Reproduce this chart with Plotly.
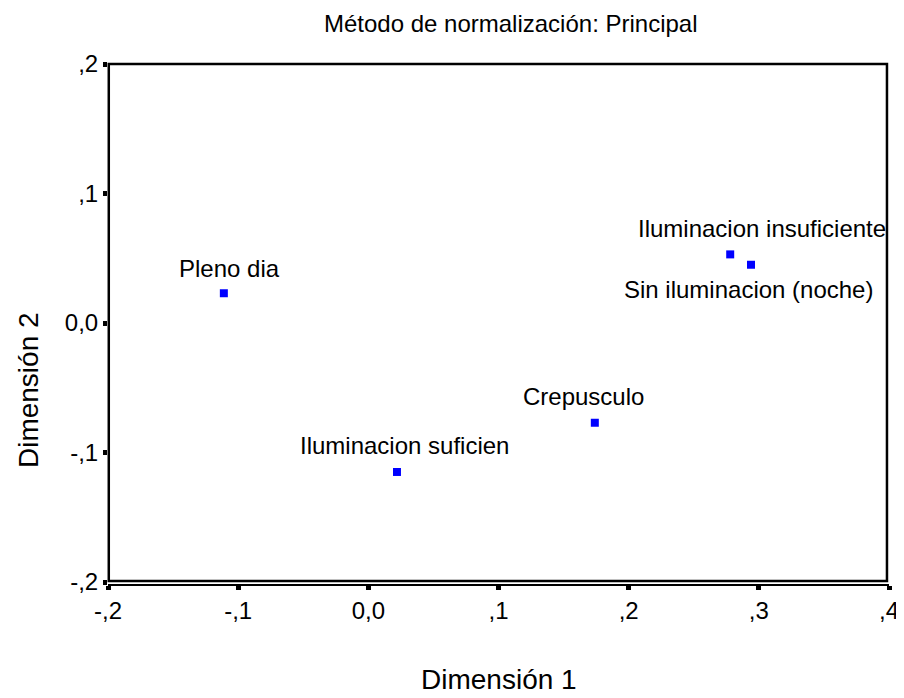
import plotly.graph_objects as go

# category points (normalizacion principal)
categorias = ["Pleno dia", "Iluminacion suficien", "Crepusculo",
              "Iluminacion insuficiente", "Sin iluminacion (noche)"]
dim1 = [-0.111, 0.022, 0.174, 0.278, 0.294]
dim2 = [0.023, -0.115, -0.077, 0.053, 0.045]

x_ticks = [-0.2, -0.1, 0.0, 0.1, 0.2, 0.3, 0.4]
x_tick_text = ["-,2", "-,1", "0,0", ",1", ",2", ",3", ",4"]
y_ticks = [-0.2, -0.1, 0.0, 0.1, 0.2]
y_tick_text = ["-,2", "-,1", "0,0", ",1", ",2"]

# label offsets in px (x, y)
label_dx = [6, 8, -11, 32, -3]
label_dy = [25, 26, 26, 26, -25]

font = "Arial, Liberation Sans, sans-serif"

fig = go.Figure()
fig.add_trace(go.Scatter(
    x=dim1, y=dim2, mode="markers",
    marker={"symbol": "square", "size": 8, "color": "#0000FF", "line": {"width": 0}},
    hovertext=categorias, showlegend=False,
))

for x, y, t, dx, dy in zip(dim1, dim2, categorias, label_dx, label_dy):
    fig.add_annotation(x=x, y=y, text=t, showarrow=False, xshift=dx, yshift=dy,
                       xanchor="center", yanchor="middle",
                       font={"size": 24, "color": "black", "family": font})

# frame box
fig.add_shape(type="rect", xref="paper", yref="paper", x0=0.001, x1=0.9974, y0=0.0058, y1=1,
              line={"color": "black", "width": 2.5}, layer="above")

fig.add_annotation(text="Método de normalización: Principal", xref="paper", yref="paper",
                   x=0.516, y=1.077, showarrow=False, xanchor="center", yanchor="middle",
                   font={"size": 24, "color": "black", "family": font})
fig.add_annotation(text="Dimensión 1", xref="paper", yref="paper",
                   x=0.5, y=-0.1846, showarrow=False, xanchor="center", yanchor="middle",
                   font={"size": 28, "color": "black", "family": font})
fig.add_annotation(text="Dimensión 2", xref="paper", yref="paper",
                   x=-0.1024, y=0.373, showarrow=False, textangle=-90,
                   xanchor="center", yanchor="middle",
                   font={"size": 28, "color": "black", "family": font})

# page has an 8px body margin, so the figure is 8px smaller
fig.update_layout({
    "width": 896, "height": 690,
    "margin": {"l": 100, "r": 15, "t": 56, "b": 114},
    "paper_bgcolor": "white", "plot_bgcolor": "white",
    "font": {"family": font, "color": "black", "size": 24},
    "xaxis": {"range": [-0.2, 0.4], "tickvals": x_ticks, "ticktext": x_tick_text,
              "showgrid": False, "zeroline": False, "showline": True, "automargin": False,
              "linecolor": "black", "linewidth": 2,
              "ticks": "outside", "ticklen": 4, "tickwidth": 5, "tickcolor": "black"},
    "yaxis": {"range": [-0.2015, 0.2], "tickvals": y_ticks, "ticktext": y_tick_text,
              "showgrid": False, "zeroline": False, "showline": False, "automargin": False,
              "ticks": "outside", "ticklen": 4, "tickwidth": 5, "tickcolor": "black"},
})

fig.write_html("out.html")
